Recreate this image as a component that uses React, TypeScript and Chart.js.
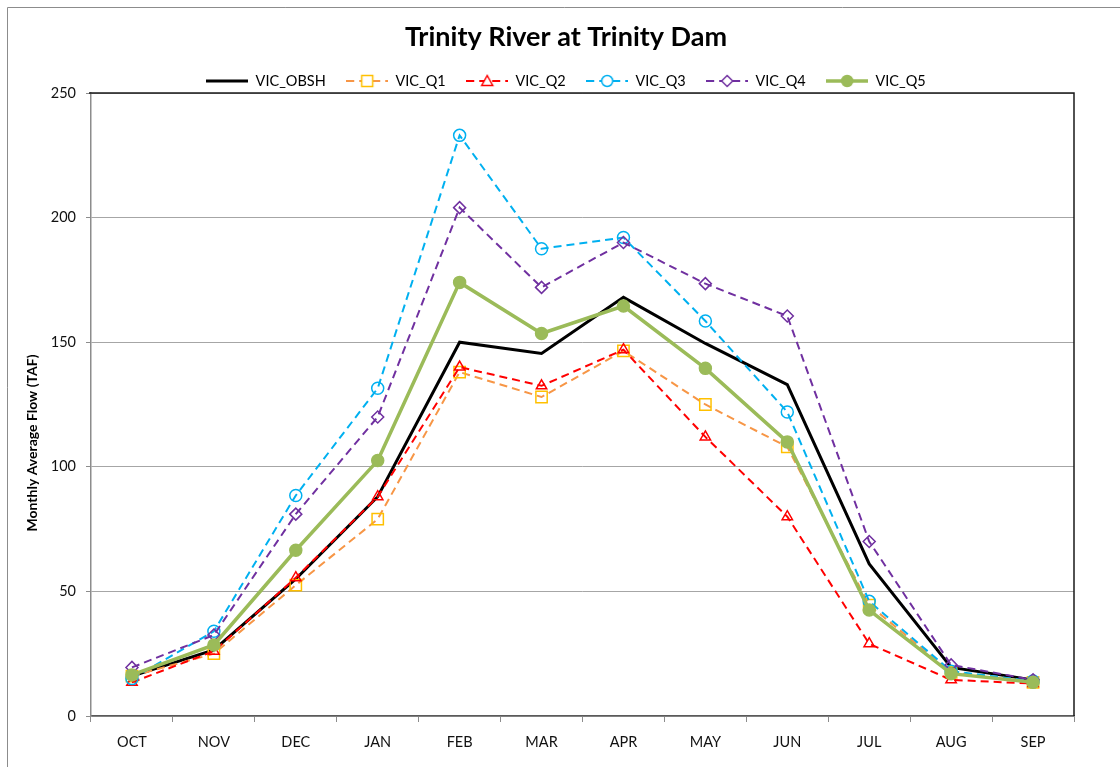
import React, { useEffect, useRef } from "react";
import { Chart, registerables } from "chart.js";

Chart.register(...registerables);

const months = ["OCT", "NOV", "DEC", "JAN", "FEB", "MAR", "APR", "MAY", "JUN", "JUL", "AUG", "SEP"];
const vicObsh = [16, 26.5, 55, 88, 150, 145.5, 168, 149.5, 133, 61, 19.5, 14.5];
const vicQ1 = [16, 25, 52.5, 79, 138, 128, 146.5, 125, 108, 44.5, 17.5, 13.5];
const vicQ2 = [13.5, 26, 55.5, 88, 140, 132.5, 147, 112, 80, 29, 14.5, 13];
const vicQ3 = [15, 34, 88.5, 131.5, 233, 187.5, 192, 158.5, 122, 46, 18, 14];
const vicQ4 = [19.5, 32.5, 81, 120, 204, 172, 190, 173.5, 160.5, 70, 20.5, 14.5];
const vicQ5 = [16.5, 28.5, 66.5, 102.5, 174, 153.5, 164.5, 139.5, 110, 42.5, 17, 13.5];
const yMin = 0;
const yMax = 250;
const yStep = 50;

const FONT = "Lato, 'Open Sans', sans-serif";

type SeriesStyle = {
  label: string;
  data: number[];
  color: string;
  markerColor: string;
  markerFill: string;
  dash: number[];
  width: number;
  point: string | false;
  radius: number;
  order: number;
};

const series: SeriesStyle[] = [
  { label: "VIC_OBSH", data: vicObsh, color: "#000000", markerColor: "#000000", markerFill: "#000000", dash: [], width: 3, point: false, radius: 0, order: 5 },
  { label: "VIC_Q1", data: vicQ1, color: "#F79646", markerColor: "#FFC000", markerFill: "rgba(0,0,0,0)", dash: [8, 5], width: 2, point: "rect", radius: 8, order: 4 },
  { label: "VIC_Q2", data: vicQ2, color: "#FF0000", markerColor: "#FF0000", markerFill: "rgba(0,0,0,0)", dash: [8, 5], width: 2, point: "triangle", radius: 6, order: 3 },
  { label: "VIC_Q3", data: vicQ3, color: "#00B0F0", markerColor: "#00B0F0", markerFill: "rgba(0,0,0,0)", dash: [8, 5], width: 2, point: "circle", radius: 6, order: 2 },
  { label: "VIC_Q4", data: vicQ4, color: "#7030A0", markerColor: "#7030A0", markerFill: "rgba(0,0,0,0)", dash: [8, 5], width: 2, point: "rectRot", radius: 6, order: 1 },
  { label: "VIC_Q5", data: vicQ5, color: "#9BBB59", markerColor: "#9BBB59", markerFill: "#9BBB59", dash: [], width: 3.5, point: "circle", radius: 6, order: 0 },
];

function legendIcon(s: SeriesStyle): HTMLCanvasElement {
  const c = document.createElement("canvas");
  const w = 42;
  const h = 16;
  c.width = w;
  c.height = h;
  const ctx = c.getContext("2d")!;
  const cy = h / 2;
  ctx.strokeStyle = s.color;
  ctx.lineWidth = s.width;
  ctx.setLineDash(s.dash);
  ctx.beginPath();
  ctx.moveTo(0, cy);
  ctx.lineTo(w, cy);
  ctx.stroke();
  ctx.setLineDash([]);
  if (s.point) {
    const cx = w / 2;
    const r = 5.5;
    ctx.strokeStyle = s.markerColor;
    ctx.fillStyle = s.markerFill === "rgba(0,0,0,0)" ? "#ffffff" : s.markerFill;
    ctx.lineWidth = 1.5;
    ctx.beginPath();
    if (s.point === "rect") {
      ctx.rect(cx - r, cy - r, 2 * r, 2 * r);
    } else if (s.point === "triangle") {
      ctx.moveTo(cx, cy - r);
      ctx.lineTo(cx + r, cy + r * 0.8);
      ctx.lineTo(cx - r, cy + r * 0.8);
      ctx.closePath();
    } else if (s.point === "rectRot") {
      ctx.moveTo(cx, cy - r);
      ctx.lineTo(cx + r, cy);
      ctx.lineTo(cx, cy + r);
      ctx.lineTo(cx - r, cy);
      ctx.closePath();
    } else {
      ctx.arc(cx, cy, r, 0, Math.PI * 2);
    }
    ctx.fill();
    ctx.stroke();
  }
  return c;
}

const framePlugin = {
  id: "framePlugin",
  afterDraw(chart: any) {
    const { ctx, chartArea } = chart;
    ctx.save();
    ctx.strokeStyle = "#8c8c8c";
    ctx.lineWidth = 1;
    ctx.beginPath();
    ctx.moveTo(7.5, chart.height + 5);
    ctx.lineTo(7.5, 7.5);
    ctx.lineTo(chart.width + 5, 7.5);
    ctx.stroke();
    ctx.strokeStyle = "#1a1a1a";
    ctx.lineWidth = 1.5;
    ctx.beginPath();
    ctx.moveTo(chartArea.left - 2, chartArea.top);
    ctx.lineTo(chartArea.right, chartArea.top);
    ctx.lineTo(chartArea.right, chartArea.bottom);
    ctx.stroke();
    ctx.restore();
  },
};

export default function App() {
  const ref = useRef<HTMLCanvasElement | null>(null);

  useEffect(() => {
    if (!ref.current) return;
    const icons = series.map(legendIcon);
    const chart = new Chart(ref.current, {
      type: "line",
      data: {
        labels: months,
        datasets: series.map((s) => ({
          label: s.label,
          data: s.data,
          borderColor: s.color,
          backgroundColor: s.color,
          borderWidth: s.width,
          borderDash: s.dash,
          pointStyle: s.point === false ? "circle" : (s.point as any),
          pointRadius: s.point === false ? 0 : s.radius,
          pointBorderColor: s.markerColor,
          pointBackgroundColor: s.markerFill,
          pointBorderWidth: 1.5,
          tension: 0,
          fill: false,
          order: s.order,
          yAxisID: "y",
        })),
      },
      options: {
        animation: false,
        responsive: false,
        maintainAspectRatio: false,
        layout: { padding: { left: 12, right: 0, top: 0, bottom: 0 } },
        plugins: {
          title: {
            display: true,
            text: "Trinity River at Trinity Dam",
            color: "#000000",
            font: { family: FONT, size: 27, weight: "bold" },
            padding: { top: 20.8, bottom: 0 },
          },
          legend: {
            display: true,
            position: "top",
            maxHeight: 39.8,
            labels: {
              usePointStyle: true,
              pointStyleWidth: 42,
              padding: 20.5,
              color: "#000000",
              font: { family: FONT, size: 14.5 },
              generateLabels: () =>
                series.map((s, i) => ({
                  text: s.label,
                  pointStyle: icons[i] as any,
                  fillStyle: s.color,
                  strokeStyle: s.color,
                  lineWidth: 0,
                  hidden: false,
                  datasetIndex: i,
                  fontColor: "#000000",
                })),
            },
          },
          tooltip: { enabled: false },
        },
        scales: {
          x: {
            type: "category",
            offset: true,
            grid: {
              offset: true,
              drawOnChartArea: false,
              drawTicks: true,
              tickLength: 6,
              tickColor: "#8c8c8c",
            },
            border: { display: true, color: "#5a5a5a", width: 1.5 },
            ticks: {
              color: "#111111",
              padding: 12,
              font: { family: FONT, size: 14.5 },
              maxRotation: 0,
            },
            afterFit: (scale: any) => {
              scale.height = 51;
            },
          },
          y: {
            type: "linear",
            position: "left",
            min: yMin,
            max: yMax,
            grid: {
              color: "#a6a6a6",
              lineWidth: 1,
              drawTicks: true,
              tickLength: 5,
              tickColor: "#8c8c8c",
            },
            border: { display: true, color: "#8c8c8c", width: 1.5 },
            ticks: {
              stepSize: yStep,
              color: "#111111",
              padding: 10,
              font: { family: FONT, size: 14.5 },
            },
            title: {
              display: true,
              text: "Monthly Average Flow (TAF)\u2002\u2002\u2002\u2002\u2002\u2002\u2002\u2002\u2002\u2002\u2002",
              color: "#000000",
              font: { family: FONT, size: 14, weight: "bold" },
              padding: { top: 11.6, bottom: 0 },
            },
            afterFit: (scale: any) => {
              scale.width = 79;
            },
          },
          y2: {
            type: "linear",
            position: "right",
            display: true,
            grid: { display: false, drawTicks: false },
            border: { display: false },
            ticks: { display: false },
            afterFit: (scale: any) => {
              scale.width = 46;
            },
          },
        },
      },
      plugins: [framePlugin],
    } as any);
    return () => chart.destroy();
  }, []);

  return (
    <div style={{ position: "fixed", left: 0, top: 0, width: 1120, height: 767, background: "#ffffff" }}>
      <canvas ref={ref} width={1120} height={767} style={{ width: 1120, height: 767, display: "block" }} />
    </div>
  );
}
